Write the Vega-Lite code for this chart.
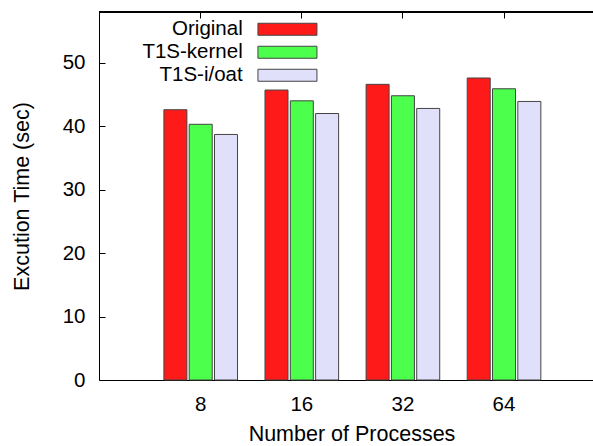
{
  "$schema": "https://vega.github.io/schema/vega-lite/v6.json",
  "width": 494,
  "height": 368,
  "autosize": {"type": "none"},
  "padding": {"left": 99, "top": 12, "right": 0, "bottom": 66},
  "background": "white",
  "config": {
    "view": {"stroke": null},
    "font": "Liberation Sans",
    "axis": {"labelFont": "Liberation Sans", "titleFont": "Liberation Sans", "labelFontSize": 20.5, "titleFontSize": 21.5, "titleFontWeight": "normal", "labelColor": "black", "titleColor": "black", "domainColor": "black", "tickColor": "black", "domainWidth": 1, "tickWidth": 1, "grid": false}
  },
  "data": {
    "values": [
      {"procs": "8", "series": "Original", "time": 42.6},
      {"procs": "8", "series": "T1S-kernel", "time": 40.3},
      {"procs": "8", "series": "T1S-i/oat", "time": 38.7},
      {"procs": "16", "series": "Original", "time": 45.7},
      {"procs": "16", "series": "T1S-kernel", "time": 44.0},
      {"procs": "16", "series": "T1S-i/oat", "time": 42.0},
      {"procs": "32", "series": "Original", "time": 46.6},
      {"procs": "32", "series": "T1S-kernel", "time": 44.8},
      {"procs": "32", "series": "T1S-i/oat", "time": 42.8},
      {"procs": "64", "series": "Original", "time": 47.6},
      {"procs": "64", "series": "T1S-kernel", "time": 45.9},
      {"procs": "64", "series": "T1S-i/oat", "time": 43.9}
    ]
  },
  "layer": [
    {
      "mark": {"type": "bar", "opacity": 0},
      "encoding": {
        "x": {
          "field": "procs", "type": "ordinal", "sort": ["8", "16", "32", "64"],
          "axis": {"orient": "top", "title": null, "labels": false, "domain": false, "ticks": true, "tickSize": 6, "offset": -6, "tickColor": "black", "tickWidth": 1}
        },
        "y": {
          "field": "time", "type": "quantitative",
          "axis": {"orient": "left", "title": null, "labels": false, "domain": true, "ticks": false}
        }
      }
    },
    {
      "mark": {"type": "bar", "stroke": "#444", "strokeWidth": 1},
      "encoding": {
        "x": {
          "field": "procs", "type": "ordinal", "sort": ["8", "16", "32", "64"],
          "scale": {"paddingInner": 0, "paddingOuter": 0.443, "align": 0.571},
          "axis": {"orient": "bottom", "title": "Number of Processes", "ticks": false, "labelPadding": 14, "labelAngle": 0, "titlePadding": 9, "titleX": 252.5, "titleAnchor": "middle"}
        },
        "xOffset": {
          "field": "series", "type": "nominal", "sort": ["Original", "T1S-kernel", "T1S-i/oat"],
          "scale": {"paddingInner": 0.091, "paddingOuter": 0.543}
        },
        "y": {
          "field": "time", "type": "quantitative",
          "scale": {"domain": [0, 58], "nice": false, "zero": true},
          "axis": {"orient": "left", "values": [0, 10, 20, 30, 40, 50], "domain": false, "ticks": true, "tickSize": 6, "offset": -6, "labelPadding": 14, "title": "Excution Time (sec)", "titlePadding": 29}
        },
        "color": {
          "field": "series", "type": "nominal", "sort": ["Original", "T1S-kernel", "T1S-i/oat"],
          "scale": {"domain": ["Original", "T1S-kernel", "T1S-i/oat"], "range": ["#ff1a1a", "#4dff4d", "#e0e0fa"]},
          "legend": {
            "orient": "none", "legendX": 178.2, "legendY": 7, "title": null, "padding": 0,
            "symbolType": "M-4.917,-1H4.917V1H-4.917Z", "symbolSize": 144, "symbolStrokeColor": "#444", "symbolStrokeWidth": 1, "symbolOpacity": 1,
            "labelFont": "Liberation Sans", "labelFontSize": 20.5, "labelColor": "black", "labelAlign": "right", "labelOffset": -55, "rowPadding": 2
          }
        }
      }
    },
    {
      "mark": {"type": "rule", "color": "black", "strokeWidth": 1},
      "encoding": {
        "y": {"datum": 58, "type": "quantitative", "axis": null}
      }
    }
  ],
  "resolve": {"axis": {"x": "independent", "y": "independent"}}
}
